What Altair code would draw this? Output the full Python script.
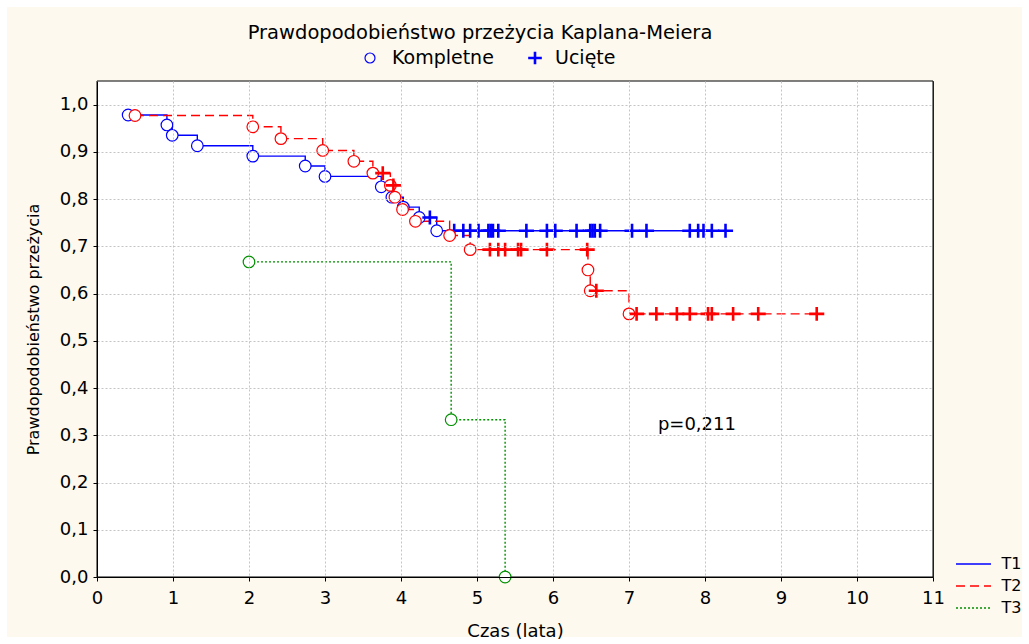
import altair as alt
import pandas as pd

FONT = "DejaVu Sans"

groups = ["T1", "T2", "T3"]
group_colors = ["#0000FF", "#FF0000", "#009000"]
group_dash = [[1, 0], [9, 5], [2, 2]]

# T1: events (Kompletne) and censored (Ucięte)
t1_event_t = [0.41, 0.92, 0.99, 1.32, 2.05, 2.74, 3.00, 3.74, 3.88, 4.03, 4.24, 4.47]
t1_event_s = [0.978, 0.957, 0.935, 0.913, 0.891, 0.870, 0.848, 0.826, 0.804, 0.783, 0.761, 0.733]
t1_cens_t = [4.38, 4.70, 4.82, 4.91, 5.02, 5.15, 5.18, 5.21, 5.28, 5.65, 5.92, 6.03,
             6.31, 6.49, 6.52, 6.55, 6.62, 7.04, 7.23, 7.80, 7.91, 7.98, 8.09, 8.27]
t1_cens_s = [0.761, 0.733, 0.733, 0.733, 0.733, 0.733, 0.733, 0.733, 0.733, 0.733, 0.733, 0.733,
             0.733, 0.733, 0.733, 0.733, 0.733, 0.733, 0.733, 0.733, 0.733, 0.733, 0.733, 0.733]

# T2
t2_event_t = [0.50, 2.05, 2.42, 2.97, 3.38, 3.63, 3.86, 3.92, 4.02, 4.19, 4.64, 4.91, 6.46, 6.49, 7.00]
t2_event_s = [0.977, 0.953, 0.928, 0.903, 0.880, 0.855, 0.829, 0.804, 0.778, 0.753, 0.723, 0.693,
              0.650, 0.606, 0.557]
t2_cens_t = [3.76, 3.90, 5.17, 5.28, 5.37, 5.54, 5.58, 5.92, 6.45, 6.57,
             7.10, 7.36, 7.63, 7.80, 8.04, 8.09, 8.37, 8.70, 9.47]
t2_cens_s = [0.855, 0.829, 0.693, 0.693, 0.693, 0.693, 0.693, 0.693, 0.693, 0.606,
             0.557, 0.557, 0.557, 0.557, 0.557, 0.557, 0.557, 0.557, 0.557]

# T3
t3_event_t = [2.00, 4.66, 5.37]
t3_event_s = [0.667, 0.333, 0.0]
t3_cens_t = []
t3_cens_s = []

x_ticks = [0, 1, 2, 3, 4, 5, 6, 7, 8, 9, 10, 11]
y_ticks = [0.0, 0.1, 0.2, 0.3, 0.4, 0.5, 0.6, 0.7, 0.8, 0.9, 1.0]

kinds = ["Kompletne", "Ucięte"]
title_text = "Prawdopodobieństwo przeżycia Kaplana-Meiera"
x_title = "Czas (lata)"
y_title = "Prawdopodobieństwo przeżycia"
p_label = ["p=0,211"]
p_x = [7.38]
p_y = [0.322]

# ---- build tables ----
series = {
    "T1": (t1_event_t, t1_event_s, t1_cens_t, t1_cens_s),
    "T2": (t2_event_t, t2_event_s, t2_cens_t, t2_cens_s),
    "T3": (t3_event_t, t3_event_s, t3_cens_t, t3_cens_s),
}
rows = []
for g, (et, es, ct, cs) in series.items():
    for t, s in zip(et, es):
        rows.append({"grupa": g, "t": t, "s": s, "kind": "Kompletne"})
    for t, s in zip(ct, cs):
        rows.append({"grupa": g, "t": t, "s": s, "kind": "Ucięte"})
df = pd.DataFrame(rows).sort_values(["grupa", "t"]).reset_index(drop=True)
df_text = pd.DataFrame({"label": p_label, "t": p_x, "s": p_y})
df_one = pd.DataFrame({"a": [0]})

W, H = 836, 496
cross_path = "M-1.3,0L1.3,0M0,-1.2L0,1.2"

x_scale = alt.Scale(domain=[0, 11], nice=False, zero=False)
y_scale = alt.Scale(domain=[0, 1.05], nice=False)

x_axis = alt.Axis(values=x_ticks, title=x_title, format="d", grid=True,
                  gridColor={"condition": {"test": "datum.value === 11", "value": "black"},
                             "value": "#c4c4c4"},
                  gridDash={"condition": {"test": "datum.value === 11", "value": [1, 0]},
                            "value": [2, 2]},
                  gridWidth=1, zindex=1,
                  labelFont=FONT, labelFontSize=18, labelColor="black",
                  titleFont=FONT, titleFontSize=18, titleFontWeight="normal",
                  titleColor="black", tickSize=4, tickColor="black",
                  domainColor="black", labelPadding=8, titlePadding=15,
                  labelFlush=False)
y_axis = alt.Axis(values=y_ticks, title=y_title,
                  labelExpr="replace(format(datum.value, '.1f'), '.', ',')",
                  grid=True, gridColor="#c4c4c4", gridDash=[2, 2], gridWidth=1, zindex=1,
                  labelFont=FONT, labelFontSize=18, labelColor="black",
                  titleFont=FONT, titleFontSize=16, titleFontWeight="normal",
                  titleColor="black", tickSize=4, tickColor="black",
                  domainColor="black", labelPadding=5, titlePadding=18)

line_legend = alt.Legend(title=None, orient="none", legendX=868.5, legendY=475,
                         symbolType="M-2.5,0L2.5,0", symbolSize=196, symbolStrokeWidth=1.5,
                         labelFont=FONT, labelFontSize=16, labelColor="black",
                         labelOffset=20, rowPadding=6)

# background decoration: cream page with thin white margin, white framed plot area
page = alt.Chart(df_one).mark_rect(fill="#FEF9EE").encode(
    x=alt.value(-90), x2=alt.value(W + 89), y=alt.value(-74), y2=alt.value(H + 60))
plotbg = alt.Chart(df_one).mark_rect(fill="white", stroke="black", strokeWidth=1).encode(
    x=alt.value(0), x2=alt.value(W), y=alt.value(0), y2=alt.value(H))

lines = alt.Chart(df).mark_line(interpolate="step-after", strokeWidth=1.4).encode(
    x=alt.X("t:Q", scale=x_scale, axis=x_axis),
    y=alt.Y("s:Q", scale=y_scale, axis=y_axis),
    color=alt.Color("grupa:N", scale=alt.Scale(domain=groups, range=group_colors),
                    legend=line_legend),
    strokeDash=alt.StrokeDash("grupa:N", scale=alt.Scale(domain=groups, range=group_dash),
                              legend=line_legend),
    order=alt.Order("t:Q"),
)

points = alt.Chart(df).mark_point(filled=False, size=135, opacity=1).encode(
    x=alt.X("t:Q", scale=x_scale),
    y=alt.Y("s:Q", scale=y_scale),
    stroke=alt.Stroke("grupa:N", scale=alt.Scale(domain=groups, range=group_colors),
                      legend=None),
    fill=alt.value("white"),
    shape=alt.Shape("kind:N", scale=alt.Scale(domain=kinds, range=["circle", cross_path]),
                    legend=None),
    strokeWidth=alt.condition("datum.kind === 'Ucięte'", alt.value(2.6), alt.value(1.2)),
)

ptext = alt.Chart(df_text).mark_text(align="left", baseline="middle", font=FONT,
                                     fontSize=18, color="black").encode(
    x=alt.X("t:Q", scale=x_scale),
    y=alt.Y("s:Q", scale=y_scale),
    text="label:N",
)

# top legend (Kompletne / Ucięte), drawn as a key above the plot
LEG_Y = -23
key_circle = alt.Chart(df_one).mark_point(shape="circle", size=100, stroke="#0000FF",
                                           strokeWidth=1.2, fill="#FEF9EE", filled=False,
                                           opacity=1).encode(
    x=alt.value(273), y=alt.value(LEG_Y))
key_circle_txt = alt.Chart(df_one).mark_text(align="left", baseline="middle", font=FONT,
                                             fontSize=19, color="black").encode(
    x=alt.value(295), y=alt.value(LEG_Y), text=alt.value(kinds[0]))
key_cross = alt.Chart(df_one).mark_point(shape=cross_path, size=110, stroke="#0000FF",
                                          strokeWidth=2.6, filled=False, opacity=1).encode(
    x=alt.value(438), y=alt.value(LEG_Y))
key_cross_txt = alt.Chart(df_one).mark_text(align="left", baseline="middle", font=FONT,
                                            fontSize=19, color="black").encode(
    x=alt.value(458), y=alt.value(LEG_Y), text=alt.value(kinds[1]))

chart = alt.layer(page, plotbg, lines, points, ptext,
                  key_circle, key_circle_txt, key_cross, key_cross_txt).properties(
    width=W, height=H,
    title=alt.TitleParams(title_text, font=FONT, fontSize=19.5, fontWeight="normal",
                          color="black", anchor="middle", dx=-35, offset=-36),
    padding={"left": 97, "top": 81, "right": 96, "bottom": 67},
    autosize=alt.AutoSizeParams(type="none"),
    background="white",
).configure_view(fill=None, stroke=None)

chart.save("out.html", embed_options={"renderer": "svg", "actions": False})
